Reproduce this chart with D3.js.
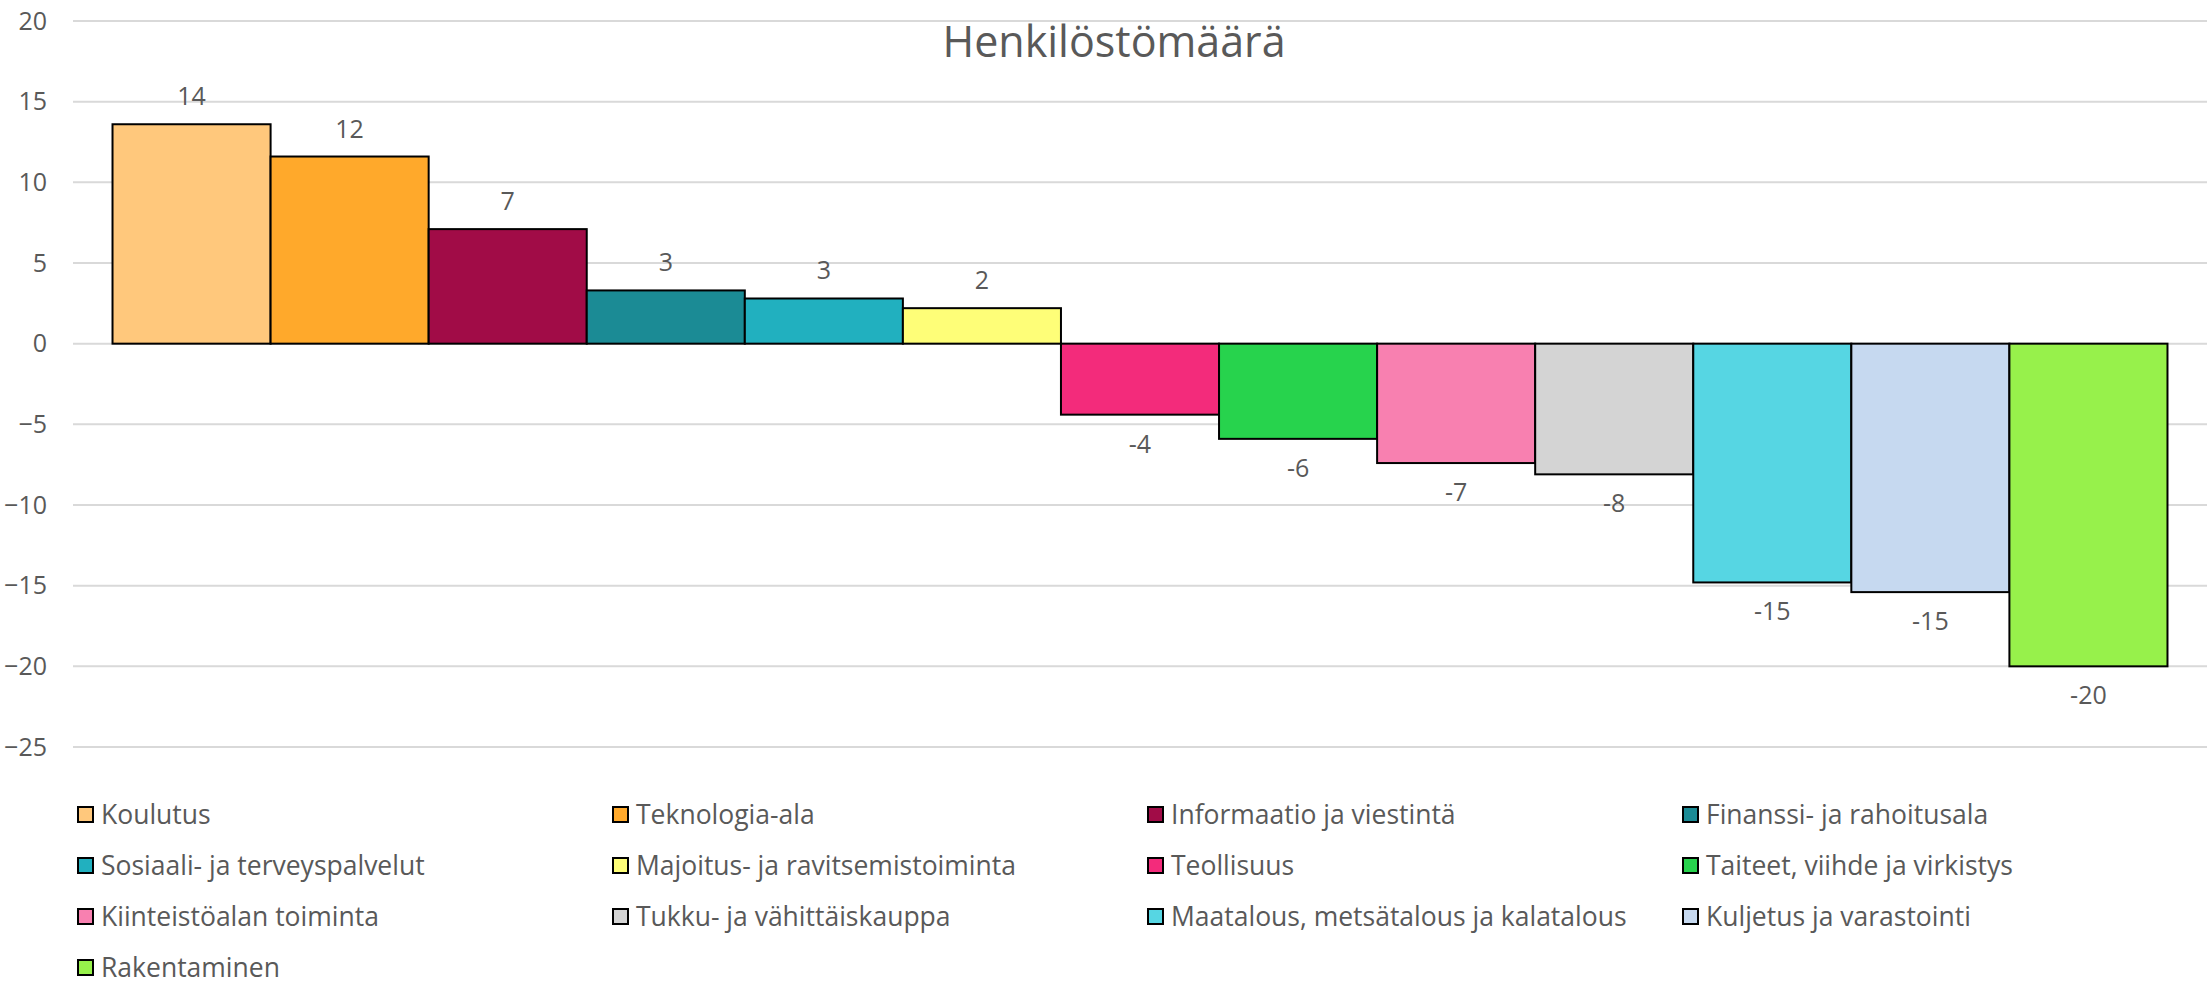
<!DOCTYPE html>
<html>
<head>
<meta charset="utf-8">
<script src="https://cdn.jsdelivr.net/npm/d3@7"></script>
<style>
body { margin: 0; background: #fff; }
svg text { font-family: "Open Sans", sans-serif; fill: #595959; }
</style>
</head>
<body>
<script>
var categories = ["Koulutus", "Teknologia-ala", "Informaatio ja viestintä", "Finanssi- ja rahoitusala",
  "Sosiaali- ja terveyspalvelut", "Majoitus- ja ravitsemistoiminta", "Teollisuus", "Taiteet, viihde ja virkistys",
  "Kiinteistöalan toiminta", "Tukku- ja vähittäiskauppa", "Maatalous, metsätalous ja kalatalous",
  "Kuljetus ja varastointi", "Rakentaminen"];
var values = [13.6, 11.6, 7.1, 3.3, 2.8, 2.2, -4.4, -5.9, -7.4, -8.1, -14.8, -15.4, -20.0];
var colors = ["#FFC87C", "#FFA92B", "#A10C47", "#1B8B95", "#21B0BF", "#FEFE78", "#F32B7B", "#27D34D",
  "#F880B0", "#D4D4D4", "#56D6E3", "#C6D9F0", "#97F14B"];
var yTicks = [20, 15, 10, 5, 0, -5, -10, -15, -20, -25];
var title = "Henkilöstömäärä";

var width = 2211, height = 981;
var plotLeft = 73, plotRight = 2207, plotTop = 21, plotBottom = 747;

var svg = d3.select("body").append("svg")
  .attr("width", width)
  .attr("height", height);

var x = d3.scaleBand()
  .domain(categories)
  .range([plotLeft, plotRight])
  .paddingInner(0)
  .paddingOuter(0.25);

var y = d3.scaleLinear()
  .domain([-25, 20])
  .range([plotBottom, plotTop]);

// gridlines
svg.append("g")
  .selectAll("line")
  .data(yTicks)
  .enter()
  .append("line")
  .attr("x1", plotLeft)
  .attr("x2", plotRight)
  .attr("y1", function(d){ return y(d); })
  .attr("y2", function(d){ return y(d); })
  .attr("stroke", "#d9d9d9")
  .attr("stroke-width", 2);

// y labels
var yAxis = d3.axisLeft(y)
  .tickValues(yTicks)
  .tickSize(0)
  .tickPadding(0)
  .tickFormat(d3.format("d"));

var yg = svg.append("g")
  .attr("transform", "translate(47,0)")
  .call(yAxis);
yg.select(".domain").remove();
yg.selectAll("text")
  .attr("font-size", "25px")
  .attr("font-family", "Open Sans")
  .style("fill", "#595959");

// title
svg.append("text")
  .attr("x", 1114)
  .attr("y", 57)
  .attr("text-anchor", "middle")
  .attr("font-size", "43px")
  .text(title);

// bars
svg.append("g")
  .selectAll("rect")
  .data(values)
  .enter()
  .append("rect")
  .attr("x", function(d, i){ return x(categories[i]); })
  .attr("y", function(d){ return y(Math.max(0, d)); })
  .attr("width", x.bandwidth())
  .attr("height", function(d){ return Math.abs(y(d) - y(0)); })
  .attr("fill", function(d, i){ return colors[i]; })
  .attr("stroke", "#000")
  .attr("stroke-width", 2);

// value labels
svg.append("g")
  .selectAll("text")
  .data(values)
  .enter()
  .append("text")
  .attr("x", function(d, i){ return x(categories[i]) + x.bandwidth() / 2; })
  .attr("y", function(d){ return d >= 0 ? y(d) - 19 : y(d) + 38; })
  .attr("text-anchor", "middle")
  .attr("font-size", "25px")
  .text(function(d){ return Math.round(d); });

// legend
var legend = svg.append("g")
  .selectAll("g")
  .data(categories)
  .enter()
  .append("g")
  .attr("transform", function(d, i){
    return "translate(" + (77 + (i % 4) * 535) + "," + (815 + Math.floor(i / 4) * 51) + ")";
  });

legend.append("rect")
  .attr("x", 1)
  .attr("y", -8)
  .attr("width", 15)
  .attr("height", 15)
  .attr("fill", function(d, i){ return colors[i]; })
  .attr("stroke", "#000")
  .attr("stroke-width", 2);

legend.append("text")
  .attr("x", 24)
  .attr("y", 0)
  .attr("dy", "0.35em")
  .attr("font-size", "26.5px")
  .text(function(d){ return d; });
</script>
</body>
</html>
